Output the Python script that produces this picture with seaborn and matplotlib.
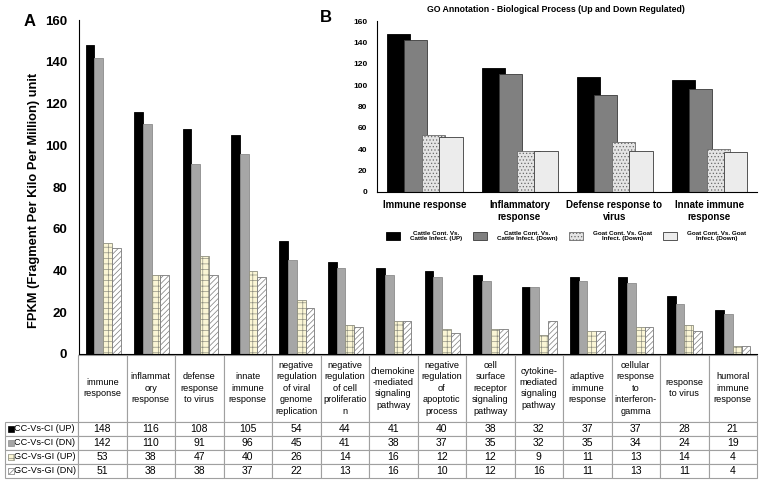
import numpy as np
import matplotlib
matplotlib.use("Agg")
import matplotlib.pyplot as plt
from matplotlib.patches import Rectangle, Patch
import pandas as pd
import seaborn as sns

plt.rcParams['font.family'] = ['Liberation Sans', 'DejaVu Sans']
plt.rcParams['hatch.linewidth'] = 0.5

# main chart (A) + table
categories = ["immune\nresponse", "inflammat\nory\nresponse", "defense\nresponse\nto virus",
              "innate\nimmune\nresponse", "negative\nregulation\nof viral\ngenome\nreplication",
              "negative\nregulation\nof cell\nproliferatio\nn", "chemokine\n-mediated\nsignaling\npathway",
              "negative\nregulation\nof\napoptotic\nprocess", "cell\nsurface\nreceptor\nsignaling\npathway",
              "cytokine-\nmediated\nsignaling\npathway", "adaptive\nimmune\nresponse",
              "cellular\nresponse\nto\ninterferon-\ngamma", "response\nto virus",
              "humoral\nimmune\nresponse"]
series = ["CC-Vs-CI (UP)", "CC-Vs-CI (DN)", "GC-Vs-GI (UP)", "GC-Vs-GI (DN)"]
cc_up = [148, 116, 108, 105, 54, 44, 41, 40, 38, 32, 37, 37, 28, 21]
cc_dn = [142, 110, 91, 96, 45, 41, 38, 37, 35, 32, 35, 34, 24, 19]
gc_up = [53, 38, 47, 40, 26, 14, 16, 12, 12, 9, 11, 13, 14, 4]
gc_dn = [51, 38, 38, 37, 22, 13, 16, 10, 12, 16, 11, 13, 11, 4]

# inset (B)
inset_categories = ["Immune response", "Inflammatory\nresponse", "Defense response to\nvirus",
                    "Innate immune\nresponse"]
inset_series = ["Cattle Cont. Vs.\nCattle Infect. (UP)", "Cattle Cont. Vs.\nCattle Infect. (Down)",
                "Goat Cont. Vs. Goat\nInfect. (Down)", "Goat Cont. Vs. Goat\nInfect. (Down) "]
inset_cattle_up = [148, 116, 108, 105]
inset_cattle_dn = [142, 110, 91, 96]
inset_goat_up = [53, 38, 47, 40]
inset_goat_dn = [51, 38, 38, 37]

main_styles = [dict(fc='black', ec='black', hatch=None),
               dict(fc='#a6a6a6', ec='#8c8c8c', hatch=None),
               dict(fc='#fbf6d5', ec='#8f8f80', hatch='+++'),
               dict(fc='white', ec='#7a7a7a', hatch='//////')]
inset_styles = [dict(fc='black', ec='black', hatch=None),
                dict(fc='#808080', ec='#3a3a3a', hatch=None),
                dict(fc='#e4e4e4', ec='#6a6a6a', hatch='.....'),
                dict(fc='#ececec', ec='#3a3a3a', hatch=None)]

W, H = 762, 494
fig = plt.figure(figsize=(W / 100, H / 100), dpi=100)


def fbox(x0, y0, x1, y1):
    return [x0 / W, 1 - y1 / H, (x1 - x0) / W, (y1 - y0) / H]


# ---- main chart
ax = fig.add_axes(fbox(79, 20, 757, 354))
df = pd.DataFrame({'category': categories * 4,
                   'series': np.repeat(series, len(categories)),
                   'value': cc_up + cc_dn + gc_up + gc_dn})
sns.barplot(data=df, x='category', y='value', hue='series', order=categories, hue_order=series,
            palette=[s['fc'] for s in main_styles], width=0.72, saturation=1, legend=False,
            errorbar=None, ax=ax)
for cont, st in zip(ax.containers, main_styles):
    for p in cont:
        p.set_edgecolor(st['ec'])
        p.set_linewidth(0.6)
        if st['hatch']:
            p.set_hatch(st['hatch'])

ax.set_xlim(-0.5, len(categories) - 0.5)
ax.set_ylim(0, 160)
ax.set_yticks(range(0, 161, 20))
ax.set_xticks([])
ax.set_xlabel('')
ax_w, ax_h = 757 - 79, 354 - 20
ax.set_ylabel('FPKM (Fragment Per Kilo Per Million) unit', fontsize=9.3, fontweight='bold')
ax.yaxis.set_label_coords((40 - 79) / ax_w, (354 - 200) / ax_h)
ax.tick_params(axis='y', length=0, pad=8.5, labelsize=9.5)
for t in ax.get_yticklabels():
    t.set_fontweight('bold')
sns.despine(ax=ax)
ax.spines['left'].set_linewidth(0.8)
ax.spines['bottom'].set_linewidth(0.8)

# ---- table under the main chart
cell_text = [[name] + [str(v) for v in vals] for name, vals in zip(series, [cc_up, cc_dn, gc_up, gc_dn])]
tab = ax.table(cellText=cell_text, colLabels=[''] + categories,
               colWidths=[73] + [48.5] * len(categories), cellLoc='center',
               bbox=[(5 - 79) / ax_w, -(478 - 354) / ax_h, (757 - 5) / ax_w, (478 - 355) / ax_h])
tab.auto_set_font_size(False)
for (r, c), cell in tab.get_celld().items():
    cell.set_edgecolor('#a0a0a0')
    cell.set_linewidth(0.8)
    txt = cell.get_text()
    if r == 0:
        cell.set_height(66)
        txt.set_fontsize(6.6)
        txt.set_linespacing(1.35)
    else:
        cell.set_height(14)
        txt.set_fontsize(7.5)
    if c == 0 and r > 0:
        cell._loc = 'left'
        txt.set_ha('left')
        txt.set_fontsize(6.6)
        cell.PAD = 0.13
tab[0, 0].set_visible(False)

# ---- inset (B)
ax2 = fig.add_axes(fbox(377, 21, 757, 192))
df2 = pd.DataFrame({'category': inset_categories * 4,
                    'series': np.repeat(inset_series, len(inset_categories)),
                    'value': inset_cattle_up + inset_cattle_dn + inset_goat_up + inset_goat_dn})
sns.barplot(data=df2, x='category', y='value', hue='series', order=inset_categories,
            hue_order=inset_series, palette=[s['fc'] for s in inset_styles], width=0.74,
            saturation=1, legend=False, errorbar=None, ax=ax2)
for cont, st in zip(ax2.containers, inset_styles):
    for p in cont:
        mid = p.get_x() + p.get_width() / 2
        p.set_width(0.245)
        p.set_x(mid - 0.1225)
        p.set_edgecolor(st['ec'])
        p.set_linewidth(0.6)
        if st['hatch']:
            p.set_hatch(st['hatch'])
ax2.set_xlim(-0.5, 3.5)
ax2.set_ylim(0, 160)
ax2.set_yticks(range(0, 161, 20))
ax2.set_xlabel('')
ax2.set_ylabel('')
ax2.tick_params(axis='y', length=0, pad=7, labelsize=6)
ax2.tick_params(axis='x', length=0, pad=6, labelsize=7)
for t in ax2.get_yticklabels() + ax2.get_xticklabels():
    t.set_fontweight('bold')
sns.despine(ax=ax2)
ax2.spines['left'].set_linewidth(0.8)
ax2.spines['bottom'].set_linewidth(0.8)

handles = [Patch(facecolor=st['fc'], edgecolor=st['ec'], hatch=st['hatch'], linewidth=0.6)
           for st in inset_styles]
leg = ax2.legend(handles, [s.strip() for s in inset_series], loc='upper center',
                 bbox_to_anchor=(566 / W, 1 - 225 / H), bbox_transform=fig.transFigure,
                 ncol=4, frameon=False, prop={'size': 4.5, 'weight': 'bold'},
                 handlelength=2.2, handleheight=1.75, handletextpad=1.6, columnspacing=1.8)
for t in leg.get_texts():
    t.set_multialignment('center')

fig.text(556 / W, 1 - 10 / H, 'GO Annotation - Biological Process (Up and Down Regulated)',
         ha='center', va='center', fontsize=6.3, fontweight='bold')
fig.text(30 / W, 1 - 22 / H, 'A', ha='center', va='center', fontsize=12, fontweight='bold')
fig.text(326 / W, 1 - 18 / H, 'B', ha='center', va='center', fontsize=12, fontweight='bold')

# little series markers in the table row labels
fig.canvas.draw()
renderer = fig.canvas.get_renderer()
for r, st in enumerate(main_styles, start=1):
    bb = tab[r, 0].get_window_extent(renderer)
    fig.add_artist(Rectangle(((bb.x0 + 3) / W, (bb.y0 + (bb.height - 6) / 2) / H), 6 / W, 6 / H,
                             transform=fig.transFigure, facecolor=st['fc'], edgecolor=st['ec'],
                             hatch=st['hatch'], linewidth=0.5))

fig.savefig('out.png', dpi=100)
